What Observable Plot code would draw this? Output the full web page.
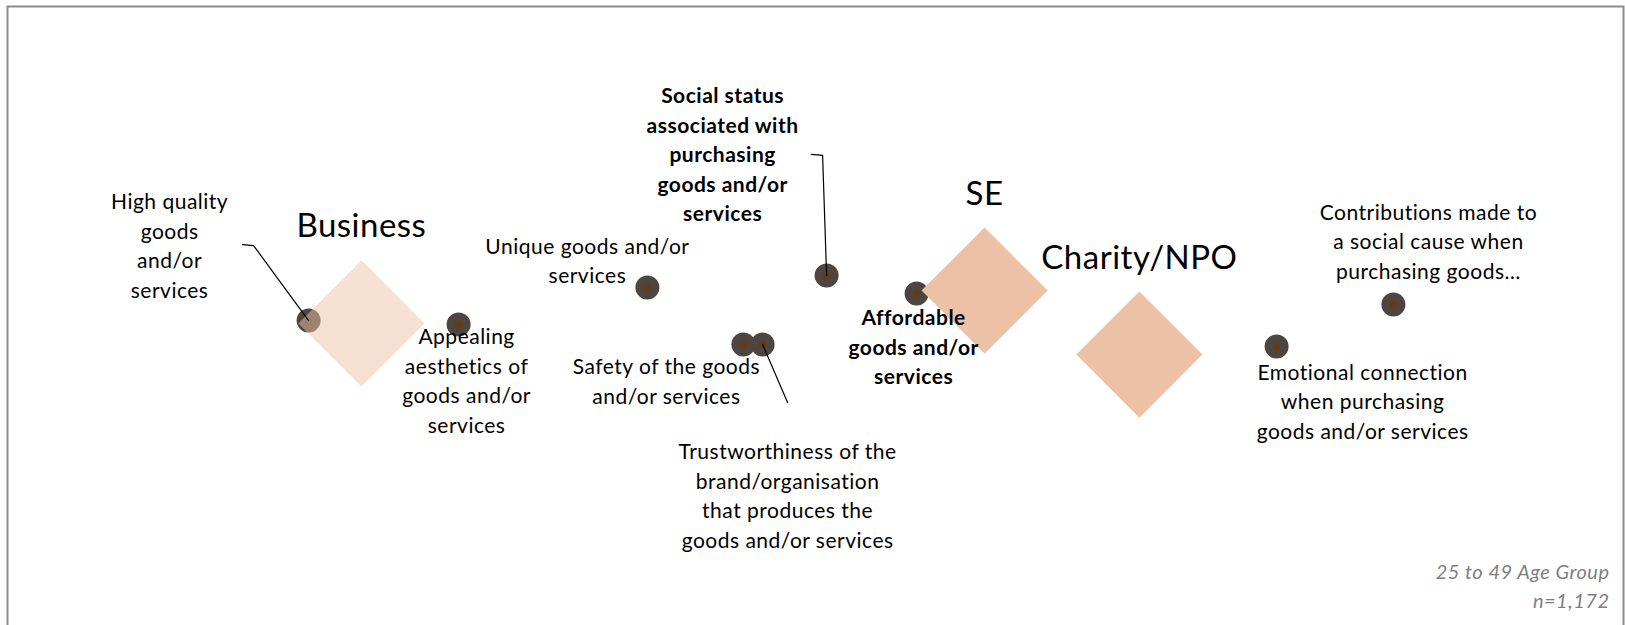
<!DOCTYPE html>
<html><head><meta charset="utf-8">
<script src="https://cdn.jsdelivr.net/npm/d3@7"></script>
<script src="https://cdn.jsdelivr.net/npm/@observablehq/plot@0.6"></script>
<style>
html,body{margin:0;padding:0;background:#fff;}
#chart{width:1625px;height:625px;overflow:hidden;}
#chart svg text{letter-spacing:0.5px;}
</style></head>
<body><div id="chart"></div>
<script>
// ---- data (correspondence-map coordinates) ----
const attributes = [
  "High quality\ngoods\nand/or\nservices",
  "Appealing\naesthetics of\ngoods and/or\nservices",
  "Unique goods and/or\nservices",
  "Safety of the goods\nand/or services",
  "Trustworthiness of the\nbrand/organisation\nthat produces the\ngoods and/or services",
  "Social status\nassociated with\npurchasing\ngoods and/or\nservices",
  "Affordable\ngoods and/or\nservices",
  "Emotional connection\nwhen purchasing\ngoods and/or services",
  "Contributions made to\na social cause when\npurchasing goods…"
];
const attrDim1 = [-1.261, -0.886, -0.414, -0.174, -0.126, 0.034, 0.259, 1.159, 1.451];
const attrDim2 = [-0.019, -0.029, 0.064, -0.079, -0.079, 0.094, 0.049, -0.084, 0.021];
const orgTypes = ["Business", "SE", "Charity/NPO"];
const orgDim1 = [-1.129, 0.429, 0.816];
const orgDim2 = [-0.026, 0.056, -0.104];
const captionLines = ["25 to 49 Age Group", "n=1,172"];

// ---- layout (label placement in pixels relative to each point) ----
const W = 1625, H = 625;
const xDomain = [-2.03125, 2.03125], yDomain = [-0.78125, 0.78125];
const pxPerUnit = W / (xDomain[1] - xDomain[0]);
const labelLayout = [
  {dx: -139, dy: -23, leader: [[-66, -76], [-55, -75]]},
  {dx: 8, dy: 108},
  {dx: -60, dy: -4},
  {dx: -77, dy: 59},
  {dx: 25, dy: 203, leader: [[25, 58]]},
  {dx: -104, dy: -54, bold: true, leader: [[-15, -121], [-4, -120]]},
  {dx: -3, dy: 91, bold: true},
  {dx: 86, dy: 92},
  {dx: 35, dy: -26}
];

const attrs = attributes.map((label, i) => ({label, x: attrDim1[i], y: attrDim2[i], ...labelLayout[i]}));
const orgs = orgTypes.map((name, i) => ({name, x: orgDim1[i], y: orgDim2[i]}));
const labelPos = attrs.map(d => ({...d, lx: d.x + d.dx / pxPerUnit, ly: d.y - d.dy / pxPerUnit}));
const leaders = attrs.flatMap((d, i) => d.leader
  ? [...d.leader.map(([ox, oy]) => ({id: i, x: d.x + ox / pxPerUnit, y: d.y - oy / pxPerUnit})), {id: i, x: d.x, y: d.y}]
  : []);

const fontSize = 21, lineHeight = 29.5 / 21;

const chart = Plot.plot({
  width: W, height: H,
  margin: 0,
  x: {domain: xDomain, axis: null},
  y: {domain: yDomain, axis: null},
  style: {fontFamily: "Lato, 'Open Sans', sans-serif", background: "#fff", color: "#000"},
  marks: [
    Plot.frame({stroke: "#8c8c8c", strokeWidth: 2, insetLeft: 7, insetTop: 6, insetRight: 2, insetBottom: -10}),
    Plot.dot(attrs, {x: "x", y: "y", r: 12, fill: "#4f4540"}),
    Plot.dot(attrs, {x: "x", y: "y", r: 3.5, fill: "#6b3a12"}),
    Plot.dot(orgs, {filter: d => d.name !== "Business", x: "x", y: "y", symbol: "diamond2", r: 56.8, fill: "#edc1a5"}),
    Plot.dot(orgs, {filter: d => d.name === "Business", x: "x", y: "y", symbol: "diamond2", r: 56.8, fill: "#edc1a5", fillOpacity: 0.5}),
    Plot.line(leaders, {x: "x", y: "y", z: "id", stroke: "#000", strokeWidth: 1.2}),
    Plot.text(labelPos, {filter: d => !d.bold, x: "lx", y: "ly", text: "label", lineAnchor: "bottom", fontSize, lineHeight, fill: "#000"}),
    Plot.text(labelPos, {filter: d => d.bold, x: "lx", y: "ly", text: "label", lineAnchor: "bottom", fontSize, lineHeight, fill: "#000", fontWeight: "bold"}),
    Plot.text(orgs, {x: "x", y: "y", text: "name", dy: -86, lineAnchor: "bottom", fontSize: 33, fill: "#000"}),
    Plot.text([captionLines.join("\n")], {text: d => d, frameAnchor: "bottom-right", dx: -16, dy: -18, lineAnchor: "bottom", textAnchor: "end", fontStyle: "italic", fontSize: 20, lineHeight: 29 / 20, fill: "#7f7f7f"})
  ]
});
document.getElementById("chart").appendChild(chart);
</script>
</body></html>
